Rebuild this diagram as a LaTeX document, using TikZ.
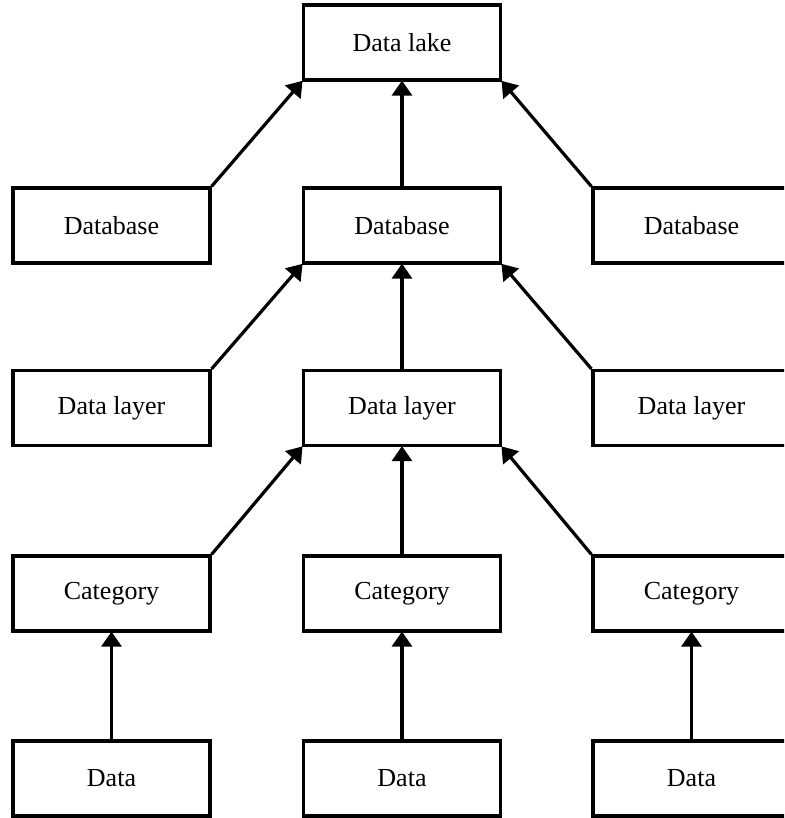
\documentclass[tikz,border=0pt]{standalone}
\usepackage{fontspec}
\setmainfont{Liberation Serif}
\usetikzlibrary{arrows.meta}
\tikzset{
  box/.style={draw, line width=3.2pt, rectangle, minimum width=197pt, minimum height=75pt,
              inner sep=0pt, font=\fontsize{26}{30}\selectfont},
  link/.style={line width=3.2pt, -{Triangle[width=20pt,length=15pt]}, shorten >=-1pt}
}
\begin{document}
\begin{tikzpicture}[x=1pt,y=-1pt]
  \useasboundingbox (0,0) rectangle (784,818);
  \clip (0,0) rectangle (784,818);
  \fill[white] (0,0) rectangle (784,818);

  % top level
  \node[box] (lake) at (402,42.5) {Data lake};

  % databases
  \node[box] (dbL) at (111.5,225.5) {Database};
  \node[box] (dbC) at (402,225.5) {Database};
  \node[box] (dbR) at (691.5,225.5) {Database};

  % data layers
  \node[box] (dlL) at (111.5,408) {Data layer};
  \node[box] (dlC) at (402,408) {Data layer};
  \node[box] (dlR) at (691.5,408) {Data layer};

  % categories
  \node[box] (catL) at (111.5,593.5) {Category};
  \node[box] (catC) at (402,593.5) {Category};
  \node[box] (catR) at (691.5,593.5) {Category};

  % raw data
  \node[box] (dL) at (111.5,778.5) {Data};
  \node[box] (dC) at (402,778.5) {Data};
  \node[box] (dR) at (691.5,778.5) {Data};

  % databases into the data lake
  \draw[link] (dbL.north east) -- (lake.south west);
  \draw[link] (dbC.north) -- (lake.south);
  \draw[link] (dbR.north west) -- (lake.south east);

  % data layers into the central database
  \draw[link] (dlL.north east) -- (dbC.south west);
  \draw[link] (dlC.north) -- (dbC.south);
  \draw[link] (dlR.north west) -- (dbC.south east);

  % categories into the central data layer
  \draw[link] (catL.north east) -- (dlC.south west);
  \draw[link] (catC.north) -- (dlC.south);
  \draw[link] (catR.north west) -- (dlC.south east);

  % data into categories
  \draw[link] (dL.north) -- (catL.south);
  \draw[link] (dC.north) -- (catC.south);
  \draw[link] (dR.north) -- (catR.south);
\end{tikzpicture}
\end{document}
